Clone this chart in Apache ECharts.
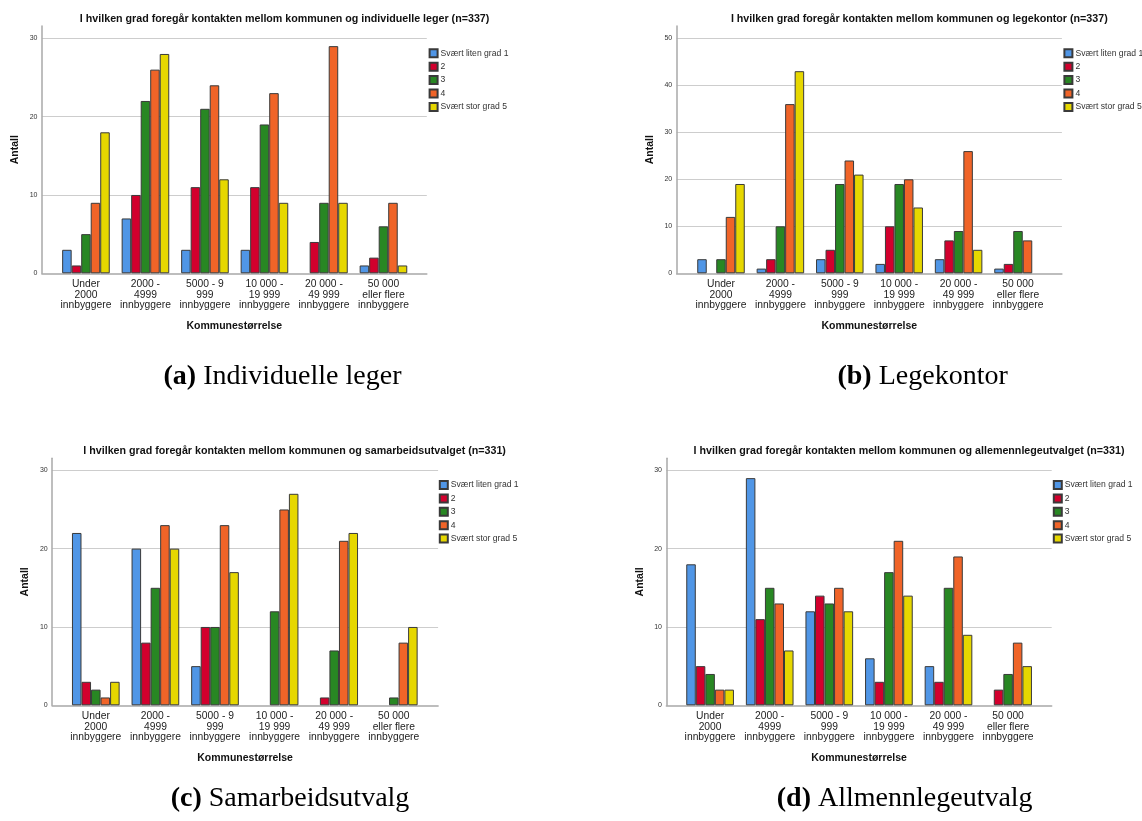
<!DOCTYPE html>
<html><head><meta charset="utf-8">
<script src="https://cdn.jsdelivr.net/npm/echarts@6/dist/echarts.min.js"></script>
<style>html,body{margin:0;padding:0;background:#fff}#c{width:1142px;height:821px}</style>
</head><body><div id="c"></div>
<script>
// ---- DATA ----
const categories = ['Under\n2000\ninnbyggere', '2000 -\n4999\ninnbyggere', '5000 - 9\n999\ninnbyggere',
  '10 000 -\n19 999\ninnbyggere', '20 000 -\n49 999\ninnbyggere', '50 000\neller flere\ninnbyggere'];
const gradeNames = ['Svært liten grad 1', '2', '3', '4', 'Svært stor grad 5'];
const yTickStep = 10;
// one list per grade, values per municipality size (null = no bar)
const individuelleLeger = [
  [3, 7, 3, 3, null, 1],
  [1, 10, 11, 11, 4, 2],
  [5, 22, 21, 19, 9, 6],
  [9, 26, 24, 23, 29, 9],
  [18, 28, 12, 9, 9, 1]
];
const legekontor = [
  [3, 1, 3, 2, 3, 1],
  [null, 3, 5, 10, 7, 2],
  [3, 10, 19, 19, 9, 9],
  [12, 36, 24, 20, 26, 7],
  [19, 43, 21, 14, 5, null]
];
const samarbeidsutvalg = [
  [22, 20, 5, null, null, null],
  [3, 8, 10, null, 1, null],
  [2, 15, 10, 12, 7, 1],
  [1, 23, 23, 25, 21, 8],
  [3, 20, 17, 27, 22, 10]
];
const allmennlegeutvalg = [
  [18, 29, 12, 6, 5, null],
  [5, 11, 14, 3, 3, 2],
  [4, 15, 13, 17, 15, 4],
  [2, 13, 15, 21, 19, 8],
  [2, 7, 12, 14, 9, 5]
];
const yMaxima = [30, 50, 30, 30];
const titles = [
  'I hvilken grad foregår kontakten mellom kommunen og individuelle leger (n=337)',
  'I hvilken grad foregår kontakten mellom kommunen og legekontor (n=337)',
  'I hvilken grad foregår kontakten mellom kommunen og samarbeidsutvalget (n=331)',
  'I hvilken grad foregår kontakten mellom kommunen og allemennlegeutvalget (n=331)'
];
const captionTags = ['(a)', '(b)', '(c)', '(d)'];
const captionTexts = ['Individuelle leger', 'Legekontor', 'Samarbeidsutvalg', 'Allmennlegeutvalg'];
const yAxisName = 'Antall';
const xAxisName = 'Kommunestørrelse';

// ---- STYLE / LAYOUT ----
const colors = ['#5096E6', '#D2002D', '#288723', '#F06428', '#E6D700'];
const datasets = [individuelleLeger, legekontor, samarbeidsutvalg, allmennlegeutvalg];
const layout = [
  {l: 41.9, r: 426.8, t: 26, b: 273.3, tmax: 38.3, band: [56.2, 413.2], tx: 284.6, ty: 18.7, lg: [428.6, 48.3], cx: 282.5, cy: 377},
  {l: 676.6, r: 1061.9, t: 26, b: 273.3, tmax: 38.3, band: [691.3, 1047.7], tx: 919.3, ty: 18.7, lg: [1063.4, 48.3], cx: 922.6, cy: 377},
  {l: 52.1, r: 438.1, t: 458.3, b: 705.3, tmax: 470.3, band: [66.0, 423.6], tx: 294.6, ty: 450.7, lg: [438.8, 480], cx: 290, cy: 799},
  {l: 666.4, r: 1051.7, t: 458.3, b: 705.3, tmax: 470.3, band: [680.3, 1037.9], tx: 909, ty: 450.7, lg: [1052.8, 480], cx: 904.7, cy: 799}
];
const FONT = 'Liberation Sans, Arial, sans-serif';
const SERIF = 'Liberation Serif, Times New Roman, serif';

const grid = [], xAxis = [], yAxis = [], series = [], legend = [], graphic = [];
layout.forEach((p, i) => {
  const ymax = yMaxima[i];
  const bgMax = ymax * (p.b - p.t) / (p.b - p.tmax);
  grid.push({left: p.l, top: p.t, width: p.r - p.l, height: p.b - p.t});
  grid.push({left: p.band[0], top: p.tmax, width: p.band[1] - p.band[0], height: p.b - p.tmax});
  const gi = 2 * i;
  xAxis.push({
    gridIndex: gi, type: 'value', min: 0, max: 1,
    axisLine: {show: true, lineStyle: {color: '#a8a8a8', width: 1.5}},
    axisTick: {show: false}, axisLabel: {show: false}, splitLine: {show: false},
    name: xAxisName, nameLocation: 'middle', nameGap: 47,
    nameTextStyle: {fontFamily: FONT, fontWeight: 'bold', fontSize: 10.5, color: '#111'}
  });
  yAxis.push({
    gridIndex: gi, type: 'value', min: 0, max: bgMax, interval: yTickStep,
    axisLine: {show: true, onZero: false, lineStyle: {color: '#a8a8a8', width: 1.5}},
    axisTick: {show: false},
    axisLabel: {showMaxLabel: false, fontFamily: FONT, fontSize: 7, margin: 4.4, color: '#333'},
    splitLine: {show: true, showMaxLine: false, showMinLine: false, lineStyle: {color: '#cdcdcd', width: 1}},
    name: yAxisName, nameLocation: 'middle', nameGap: 21, nameRotate: 90,
    nameTextStyle: {fontFamily: FONT, fontWeight: 'bold', fontSize: 10.5, color: '#111'}
  });
  xAxis.push({
    gridIndex: gi + 1, type: 'category', data: categories,
    axisLine: {show: false}, axisTick: {show: false}, splitLine: {show: false},
    axisLabel: {interval: 0, margin: 5.4, fontFamily: FONT, fontSize: 10.3, lineHeight: 10.7, color: '#222'}
  });
  yAxis.push({gridIndex: gi + 1, type: 'value', min: 0, max: ymax, show: false, splitLine: {show: false}});
  datasets[i].forEach((vals, k) => {
    series.push({
      type: 'bar', name: gradeNames[k], xAxisIndex: gi + 1, yAxisIndex: gi + 1,
      data: vals, barGap: '0%', barCategoryGap: '20%',
      itemStyle: {color: colors[k], borderColor: '#3a3a3a', borderWidth: 1},
      emphasis: {disabled: true}, animation: false
    });
  });
  legend.push({
    orient: 'vertical', left: p.lg[0], top: p.lg[1], padding: 0,
    itemWidth: 8, itemHeight: 8, itemGap: 3.4, icon: 'rect', selectedMode: false,
    data: gradeNames,
    textStyle: {fontFamily: FONT, fontSize: 8.6, lineHeight: 8, color: '#333', padding: [0, 0, 0, -2]}
  });
  graphic.push({
    type: 'text', x: p.tx, y: p.ty, silent: true,
    style: {text: titles[i], align: 'center', verticalAlign: 'middle', fontFamily: FONT, fontWeight: 'bold', fontSize: 10.7, fill: '#111'}
  });
  graphic.push({
    type: 'text', x: p.cx, y: p.cy, silent: true,
    style: {
      text: '{b|' + captionTags[i] + '} ' + captionTexts[i], align: 'center', verticalAlign: 'middle',
      fontFamily: SERIF, fontSize: 28, fill: '#000',
      rich: {b: {fontFamily: SERIF, fontSize: 28, fontWeight: 'bold', fill: '#000'}}
    }
  });
});

const chart = echarts.init(document.getElementById('c'), null, {renderer: 'canvas'});
chart.setOption({
  animation: false, color: colors,
  grid, xAxis, yAxis, series, legend, graphic
});
</script>
</body></html>
